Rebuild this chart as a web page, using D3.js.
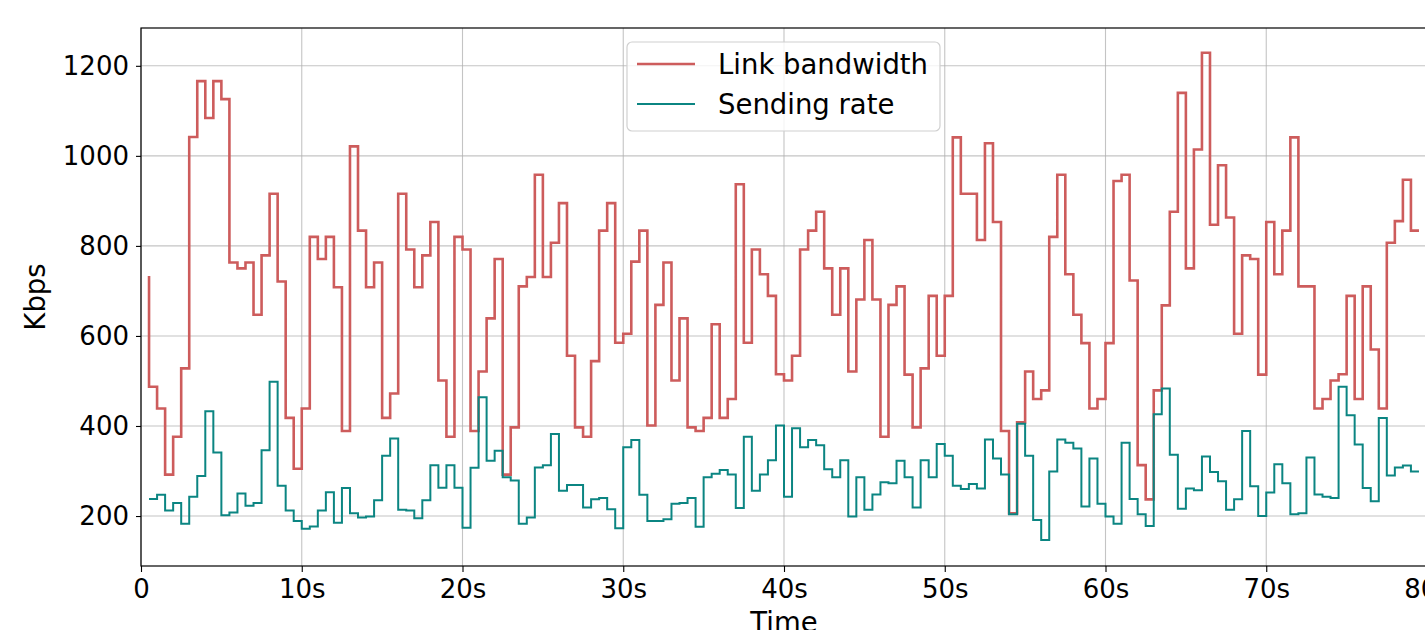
<!DOCTYPE html>
<html>
<head>
<meta charset="utf-8">
<script src="https://cdn.jsdelivr.net/npm/d3@7"></script>
<style>
  body { margin: 0; background: #fff; }
  text { font-family: "DejaVu Sans", sans-serif; fill: #000; }
</style>
</head>
<body>
<div id="ChartDiv"></div>
<script>
// sample times, one value every half second
var times = d3.range(0.5, 80, 0.5);

// Link bandwidth (Kbps), 10 seconds per row
var bandwidth = [
    733, 487, 439, 292, 376, 528, 1042, 1166, 1084, 1166, 1126, 763, 750, 763, 647, 779, 916, 721, 418, 305,
    439, 820, 771, 820, 708, 389, 1021, 834, 708, 763, 418, 472, 916, 792, 708, 779, 853, 501, 376, 820,
    792, 389, 521, 639, 771, 292, 397, 710, 731, 958, 731, 807, 895, 556, 397, 376, 544, 834, 895, 585,
    605, 765, 834, 401, 669, 763, 501, 639, 397, 389, 418, 626, 418, 460, 937, 585, 792, 737, 689, 515,
    501, 556, 792, 834, 876, 750, 647, 750, 521, 681, 813, 681, 376, 669, 710, 514, 397, 528, 689, 556,
    689, 1041, 916, 916, 813, 1028, 853, 389, 206, 408, 521, 460, 479, 820, 958, 737, 647, 584, 439, 460,
    584, 944, 958, 723, 313, 237, 479, 668, 876, 1140, 750, 1014, 1229, 847, 979, 863, 605, 779, 771, 514,
    853, 737, 834, 1041, 710, 710, 439, 460, 501, 515, 689, 460, 710, 570, 439, 807, 855, 947, 834
];

// Sending rate (Kbps)
var sending = [
    238, 238, 247, 212, 229, 183, 243, 289, 433, 341, 202, 208, 250, 223, 229, 346, 498, 267, 212, 189,
    172, 177, 212, 253, 185, 262, 206, 197, 199, 235, 334, 372, 214, 212, 195, 235, 313, 263, 313, 263,
    174, 307, 464, 323, 345, 286, 279, 183, 197, 308, 313, 382, 256, 269, 269, 219, 237, 240, 215, 173,
    353, 369, 247, 189, 189, 193, 227, 229, 240, 176, 286, 294, 302, 292, 218, 376, 256, 292, 324, 401,
    243, 395, 353, 369, 357, 304, 286, 324, 199, 286, 214, 248, 275, 273, 323, 286, 219, 324, 286, 360,
    334, 267, 260, 271, 261, 370, 328, 292, 204, 405, 334, 191, 147, 299, 370, 363, 350, 221, 328, 227,
    199, 183, 363, 238, 204, 178, 426, 483, 336, 216, 261, 257, 332, 298, 277, 214, 237, 389, 266, 200,
    252, 315, 273, 204, 206, 330, 248, 243, 240, 487, 424, 359, 262, 233, 418, 290, 308, 312, 299
];

var xTicks = [0, 10, 20, 30, 40, 50, 60, 70, 80];
var xTickLabels = ["0", "10s", "20s", "30s", "40s", "50s", "60s", "70s", "80s"];
var yTicks = [200, 400, 600, 800, 1000, 1200];
var seriesNames = ["Link bandwidth", "Sending rate"];
var seriesColors = ["#cd5c5c", "#0b8582"];

function drawChart() {

    var margin = {
        top: 28,
        right: 0,
        bottom: 64,
        left: 141
    }

    var fullWidth = 1425;
    var fullHeight = 630;
    var width = 1286; // the right edge (80s) falls just outside the picture
    var height = fullHeight - margin.top - margin.bottom;

    var x_scale = d3.scaleLinear()
        .domain([0, 80])
        .range([0, width]);

    var y_scale = d3.scaleLinear()
        .domain([89, 1284])
        .range([height, 0]);

    var svg = d3.select('#ChartDiv').append('svg')
        .attr('width', fullWidth)
        .attr('height', fullHeight)
        .style('display', 'block');

    var g = svg.append("g")
        .attr("transform", "translate(" + margin.left + "," + margin.top + ")");

    //grid lines
    g.append("g")
        .selectAll("line")
        .data(xTicks)
        .enter().append("line")
        .attr("x1", function(d) { return x_scale(d); })
        .attr("x2", function(d) { return x_scale(d); })
        .attr("y1", 0)
        .attr("y2", height)
        .style("stroke", "#b0b0b0")
        .style("stroke-opacity", 0.75)
        .style("stroke-width", 1.1);

    g.append("g")
        .selectAll("line")
        .data(yTicks)
        .enter().append("line")
        .attr("x1", 0)
        .attr("x2", width)
        .attr("y1", function(d) { return y_scale(d); })
        .attr("y2", function(d) { return y_scale(d); })
        .style("stroke", "#b0b0b0")
        .style("stroke-opacity", 0.75)
        .style("stroke-width", 1.1);

    //step lines (matplotlib "pre" steps)
    var series = [bandwidth, sending];
    var widths = [2.6, 2];

    series.forEach(function(values, k) {
        var line = d3.line()
            .curve(d3.curveStepBefore)
            .x(function(d, i) { return x_scale(times[i]); })
            .y(function(d) { return y_scale(d); });

        g.append("path")
            .datum(values)
            .attr("d", line)
            .style("fill", "none")
            .style("stroke", seriesColors[k])
            .style("stroke-width", widths[k])
            .style("stroke-linejoin", "miter");
    });

    // x Axis
    var xAxis = g.append("g")
        .attr("transform", "translate(0," + height + ")")
        .call(d3.axisBottom(x_scale)
            .tickValues(xTicks)
            .tickSize(6)
            .tickPadding(6)
            .tickFormat(function(d, i) { return xTickLabels[i]; }));

    // y Axis
    var yAxis = g.append("g")
        .call(d3.axisLeft(y_scale)
            .tickValues(yTicks)
            .tickSize(5)
            .tickPadding(7)
            .tickFormat(d3.format("d")));

    [xAxis, yAxis].forEach(function(ax) {
        ax.select(".domain").remove();
        ax.selectAll(".tick line").style("stroke", "#000").style("stroke-width", 1.1);
        ax.selectAll(".tick text")
            .style("font-size", "26px")
            .style("font-family", "'DejaVu Sans', sans-serif")
            .style("fill", "#000");
    });
    xAxis.selectAll(".tick text").attr("dy", "0.76em");

    //frame
    g.append("rect")
        .attr("x", 0)
        .attr("y", 0)
        .attr("width", width)
        .attr("height", height)
        .style("fill", "none")
        .style("stroke", "#000")
        .style("stroke-width", 1.2);

    //Y Axis Label
    svg.append("text")
        .attr("text-anchor", "middle")
        .attr("transform", "translate(45," + (margin.top + height / 2) + ")rotate(-90)")
        .style("font-size", "27.5px")
        .text("Kbps");

    //X Axis Label
    svg.append("text")
        .attr("text-anchor", "middle")
        .attr("x", margin.left + width / 2)
        .attr("y", 632)
        .style("font-size", "27.5px")
        .text("Time");

    //Legend
    var legend = svg.append("g")
        .attr("transform", "translate(627,42)");

    legend.append("rect")
        .attr("width", 313)
        .attr("height", 89)
        .attr("rx", 5)
        .style("fill", "#fff")
        .style("fill-opacity", 0.8)
        .style("stroke", "#d0d0d0")
        .style("stroke-width", 1.2);

    var item = legend.selectAll(".legend")
        .data(seriesNames)
        .enter().append("g")
        .attr("class", "legend")
        .attr("transform", function(d, i) {
            return "translate(0," + i * 40 + ")";
        });

    item.append("line")
        .attr("x1", 10)
        .attr("x2", 68)
        .attr("y1", 22)
        .attr("y2", 22)
        .style("stroke", function(d, i) { return seriesColors[i]; })
        .style("stroke-width", function(d, i) { return widths[i]; });

    item.append("text")
        .attr("x", 91)
        .attr("y", 32)
        .style("font-size", "27.5px")
        .text(function(d) { return d; });
}

drawChart();
</script>
</body>
</html>
